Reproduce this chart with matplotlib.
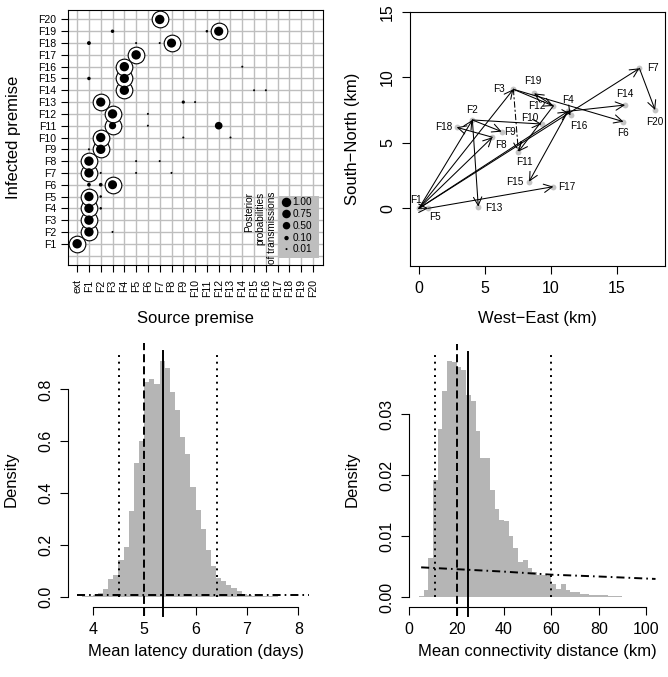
import numpy as np
import matplotlib
matplotlib.use("Agg")
import matplotlib.pyplot as plt
from matplotlib.patches import Rectangle

plt.rcParams['font.family'] = ['Liberation Sans', 'DejaVu Sans']
plt.rcParams['axes.linewidth'] = 0.8
plt.rcParams['lines.scale_dashes'] = False

# ---------------- data ----------------
premises = ["F%d" % i for i in range(1, 21)]
sources = ["ext"] + premises

# posterior probabilities of transmission: infected premise <- source premise
post_infected = ["F1",
                 "F2", "F2",
                 "F3",
                 "F4", "F4",
                 "F5", "F5",
                 "F6", "F6", "F6",
                 "F7", "F7", "F7", "F7",
                 "F8", "F8", "F8",
                 "F9", "F9",
                 "F10", "F10", "F10",
                 "F11", "F11", "F11",
                 "F12", "F12",
                 "F13", "F13", "F13",
                 "F14", "F14", "F14",
                 "F15", "F15",
                 "F16", "F16",
                 "F17",
                 "F18", "F18", "F18", "F18",
                 "F19", "F19", "F19",
                 "F20"]
post_source = ["ext",
               "F1", "F3",
               "F1",
               "F1", "F2",
               "F1", "F2",
               "F3", "F1", "F2",
               "F1", "F2", "F5", "F8",
               "F1", "F5", "F7",
               "F2", "F1",
               "F2", "F9", "F13",
               "F12", "F3", "F6",
               "F3", "F6",
               "F2", "F9", "F10",
               "F4", "F15", "F16",
               "F4", "F1",
               "F4", "F14",
               "F5",
               "F8", "F1", "F5", "F7",
               "F12", "F3", "F11",
               "F7"]
post_prob = [1.00,
             0.98, 0.01,
             1.00,
             0.97, 0.02,
             0.97, 0.02,
             0.88, 0.06, 0.06,
             0.97, 0.01, 0.01, 0.01,
             0.98, 0.01, 0.01,
             0.98, 0.01,
             0.97, 0.01, 0.01,
             0.53, 0.45, 0.01,
             0.98, 0.01,
             0.94, 0.04, 0.01,
             0.97, 0.01, 0.01,
             0.94, 0.05,
             0.98, 0.01,
             1.00,
             0.91, 0.07, 0.01, 0.01,
             0.92, 0.05, 0.02,
             1.00]
true_source = ["ext", "F1", "F1", "F1", "F1", "F3", "F1", "F1", "F2", "F2",
               "F3", "F3", "F2", "F4", "F4", "F4", "F5", "F8", "F12", "F7"]
legend_probs = [1.00, 0.75, 0.50, 0.10, 0.01]

# premise locations (km)
farm_x = [0.0, 4.05, 7.16, 11.3, 0.7, 15.51, 16.72, 5.57, 6.27, 9.31,
          7.54, 10.19, 4.5, 15.63, 8.35, 11.5, 10.19, 2.86, 8.73, 17.91]
farm_y = [0.0, 6.74, 9.08, 7.4, 0.0, 6.61, 10.68, 5.42, 5.85, 6.43,
          4.32, 7.81, 0.13, 7.88, 2.03, 7.1, 1.65, 6.18, 8.77, 7.5]

# posterior of mean latency duration (days), bins of 0.1 from 3.7
lat_bin_start, lat_bin_width = 3.7, 0.1
lat_density = [0.002, 0.003, 0.005, 0.010, 0.017, 0.030, 0.072, 0.087, 0.142, 0.193,
               0.330, 0.515, 0.600, 0.827, 0.840, 0.822, 0.909, 0.884, 0.790, 0.720,
               0.618, 0.552, 0.426, 0.337, 0.264, 0.183, 0.119, 0.074, 0.061, 0.049,
               0.036, 0.023, 0.012, 0.008, 0.006, 0.005, 0.004, 0.003, 0.003, 0.002,
               0.002, 0.002, 0.001, 0.001, 0.001, 0.001]
lat_ci = [4.52, 6.42]
lat_true = 5.0
lat_median = 5.36
lat_prior_x = [3.7, 8.2]
lat_prior_y = [0.01, 0.01]

# posterior of mean connectivity distance (km), bins of 2 from 4
con_bin_start, con_bin_width = 4.0, 2.0
con_density = [0.0002, 0.0012, 0.0065, 0.0193, 0.0276, 0.0338, 0.0387, 0.0385, 0.0378, 0.0372,
               0.0331, 0.0322, 0.0273, 0.0229, 0.0228, 0.0175, 0.0144, 0.0127, 0.0125, 0.0100,
               0.0080, 0.0057, 0.0061, 0.0048, 0.0041, 0.0037, 0.0036, 0.0035, 0.0022, 0.0014,
               0.0021, 0.0012, 0.0008, 0.0009, 0.0006, 0.0005, 0.0004, 0.0004, 0.0003, 0.0003,
               0.0002, 0.0002, 0.0002, 0.0001, 0.0001, 0.0001, 0.0001, 0.0001, 0.0001, 0.0001]
con_ci = [10.8, 59.8]
con_true = 20.0
con_median = 24.6
con_prior_x = [5, 20, 40, 60, 80, 104]
con_prior_y = [0.0049, 0.0046, 0.0042, 0.0037, 0.0034, 0.0030]

# ---------------- figure ----------------
W, H = 668, 677
fig = plt.figure(figsize=(W / 100, H / 100), dpi=100)


def axes_px(l, t, r, b):
    return fig.add_axes([l / W, 1 - b / H, (r - l) / W, (b - t) / H])


TICK = 11.5
LAB = 12
SMALL = 7.2
GRIDC = '#BEBEBE'
HISTC = '#B5B5B5'

# ---------- panel 1: transmission matrix ----------
ax1 = axes_px(67.7, 10, 322.5, 265)
ax1.set_xlim(-0.8, 20.8)
ax1.set_ylim(-0.8, 20.8)
for i in range(21):
    ax1.axvline(i, color=GRIDC, lw=1.0, zorder=1)
    ax1.axhline(i, color=GRIDC, lw=1.0, zorder=1)

cx = [sources.index(s) for s in true_source]
cy = [premises.index(p) + 1 for p in premises]
ax1.scatter(cx, cy, s=12.0 ** 2, facecolors='white', edgecolors='black',
            linewidths=0.8, zorder=3)
dx = [sources.index(s) for s in post_source]
dy = [premises.index(p) + 1 for p in post_infected]
dsz = [(6.8 * p ** (1 / 3)) ** 2 for p in post_prob]
ax1.scatter(dx, dy, s=dsz, color='black', linewidths=0, zorder=4)

# legend
ax1.add_patch(Rectangle((17.14, -0.19), 3.39, 5.2, facecolor=GRIDC,
                        edgecolor='none', zorder=5))
leg_y = [4.50, 3.52, 2.53, 1.48, 0.55]
ax1.scatter([17.75] * len(legend_probs), leg_y,
            s=[(6.8 * p ** (1 / 3)) ** 2 for p in legend_probs],
            color='black', linewidths=0, zorder=6)
for p, yy in zip(legend_probs, leg_y):
    ax1.text(18.25, yy, "%.2f" % p, fontsize=SMALL, va='center', ha='left', zorder=6)
for txt, xx in zip(["Posterior", "probabilities", "of transmissions"], [14.58, 15.5, 16.5]):
    ax1.text(xx, 5.41, txt, rotation=90, fontsize=SMALL, ha='center', va='top', zorder=6)

ax1.set_xticks(range(21))
ax1.set_xticklabels(sources, rotation=90, fontsize=7.6)
ax1.set_yticks(range(1, 21))
ax1.set_yticklabels(premises, fontsize=7.6)
ax1.tick_params(length=5.3, width=0.8, pad=3)
ax1.tick_params(axis='x', pad=5)
fig.text(14 / W, 1 - 137.5 / H, "Infected premise", rotation=90, fontsize=LAB,
         ha='center', va='center')
fig.text(195 / W, 1 - 318 / H, "Source premise", fontsize=LAB, ha='center', va='center')

# ---------- panel 2: map ----------
ax2 = axes_px(410, 11.7, 665, 265.7)
ax2.set_xlim(-0.68, 18.66)
ax2.set_ylim(-4.38, 15.0)
ax2.plot(farm_x, farm_y, 'o', color='#C4C4C4', ms=4.2, mew=0, zorder=2)

arrow_style = '->,head_length=0.6,head_width=0.3'
for j, p in enumerate(premises):
    idx = [k for k in range(len(post_infected)) if post_infected[k] == p]
    best = max(idx, key=lambda k: post_prob[k])
    mode_src = post_source[best]
    pairs = [(mode_src, '-')]
    if true_source[j] != mode_src:
        pairs.append((true_source[j], (0, (4, 2, 1, 2))))
    for src, ls in pairs:
        if src == 'ext':
            continue
        s = premises.index(src)
        ax2.annotate('', xy=(farm_x[j], farm_y[j]), xytext=(farm_x[s], farm_y[s]),
                     arrowprops=dict(arrowstyle=arrow_style, lw=0.75, color='black',
                                     shrinkA=0, shrinkB=0, linestyle=ls),
                     zorder=3)

label_off = {"F1": (-2.4, 6), "F2": (0, 7.2), "F3": (-10, 0), "F4": (0, 8.4),
             "F5": (5, -6), "F6": (0, -7.9), "F7": (10, 0), "F8": (6, -5.5),
             "F9": (6.2, -0.5), "F10": (-8.9, 4.1), "F11": (4.3, -7.2),
             "F12": (-12, 0), "F13": (11.3, -1.2), "F14": (0, 7.7),
             "F15": (-10.6, 0), "F16": (6.2, -7.7), "F17": (9.6, 0),
             "F18": (-9, 0), "F19": (-1, 8.9), "F20": (0, -8.4)}
for j, p in enumerate(premises):
    ax2.annotate(p, (farm_x[j], farm_y[j]), xytext=label_off[p], textcoords='offset points',
                 fontsize=SMALL, ha='center', va='center', zorder=4)

ax2.set_xticks([0, 5, 10, 15])
ax2.set_yticks([0, 5, 10, 15])
ax2.tick_params(length=5.8, width=0.8, labelsize=TICK, pad=5)
ax2.tick_params(axis='y', labelrotation=90)
for lb in ax2.get_yticklabels():
    lb.set_va('center')
fig.text(353 / W, 1 - 138.7 / H, "South\u2212North (km)", rotation=90, fontsize=LAB,
         ha='center', va='center')
fig.text(537.5 / W, 1 - 318 / H, "West\u2212East (km)", fontsize=LAB, ha='center', va='center')


# ---------- histogram panels ----------
def hist_panel(ax, start, width, dens, ci, true_v, med, px, py, xlim, ylim,
               xt, yt, yfmt):
    edges = [start + width * i for i in range(len(dens))]
    ax.bar(edges, dens, width=width, align='edge', color=HISTC, linewidth=0, zorder=1)
    ax.set_xlim(*xlim)
    ax.set_ylim(*ylim)
    tr = ax.get_xaxis_transform()
    y0 = (0 - ylim[0]) / (ylim[1] - ylim[0])
    for c in ci:
        ax.plot([c, c], [y0, 1.0], transform=tr, color='black', lw=1.4,
                linestyle=(0, (1.4, 3.4)), clip_on=False, zorder=3)
    ax.plot([true_v, true_v], [-0.036, 1.033], transform=tr, color='black', lw=1.4,
            linestyle=(0, (5.8, 2.9)), clip_on=False, zorder=3)
    ax.plot([med, med], [-0.036, 1.0], transform=tr, color='black', lw=1.4,
            clip_on=False, zorder=3)
    ax.plot(px, py, color='black', lw=1.4, linestyle=(0, (5.8, 2.9, 1.2, 2.9)), zorder=3)
    for sp in ['top', 'right']:
        ax.spines[sp].set_visible(False)
    ax.spines['left'].set_bounds(yt[0], yt[-1])
    ax.spines['bottom'].set_bounds(xt[0], xt[-1])
    ax.set_xticks(xt)
    ax.set_yticks(yt)
    ax.set_yticklabels([yfmt % v for v in yt])
    ax.tick_params(length=5.8, width=0.8, labelsize=TICK, pad=5)
    ax.tick_params(axis='y', labelrotation=90)
    for lb in ax.get_yticklabels():
        lb.set_va('center')


ax3 = axes_px(68.3, 351.4, 323.2, 606.7)
hist_panel(ax3, lat_bin_start, lat_bin_width, lat_density, lat_ci, lat_true, lat_median,
           lat_prior_x, lat_prior_y, (3.525, 8.484), (-0.0364, 0.946),
           [4, 5, 6, 7, 8], [0.0, 0.2, 0.4, 0.6, 0.8], "%.1f")
fig.text(11 / W, 1 - 479 / H, "Density", rotation=90, fontsize=LAB, ha='center', va='center')
fig.text(195.7 / W, 1 - 651.7 / H, "Mean latency duration (days)", fontsize=LAB,
         ha='center', va='center')

ax4 = axes_px(409.3, 352, 665, 606.7)
hist_panel(ax4, con_bin_start, con_bin_width, con_density, con_ci, con_true, con_median,
           con_prior_x, con_prior_y, (0, 108), (-0.00155, 0.0402),
           [0, 20, 40, 60, 80, 100], [0.00, 0.01, 0.02, 0.03], "%.2f")
fig.text(352.5 / W, 1 - 479 / H, "Density", rotation=90, fontsize=LAB, ha='center', va='center')
fig.text(537 / W, 1 - 651.7 / H, "Mean connectivity distance (km)", fontsize=LAB,
         ha='center', va='center')

fig.savefig("out.png", dpi=100)
